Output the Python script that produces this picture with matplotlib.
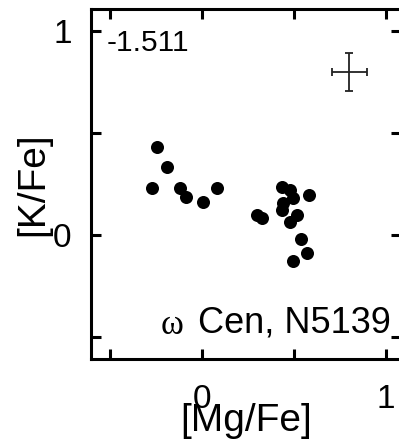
import matplotlib
matplotlib.use("Agg")
import matplotlib.pyplot as plt
import numpy as np

plt.rcParams['font.family'] = ['Liberation Sans', 'DejaVu Sans']

# [Mg/Fe] and [K/Fe] of the stars
mg_fe = [-0.246, -0.192, -0.270, -0.120, -0.087, 0.004, 0.083,
         0.297, 0.324,
         0.433, 0.478, 0.496, 0.442, 0.433, 0.478, 0.515, 0.582,
         0.538, 0.572, 0.493]
k_fe = [0.430, 0.335, 0.229, 0.229, 0.188, 0.163, 0.232,
        0.098, 0.082,
        0.237, 0.221, 0.180, 0.157, 0.123, 0.065, 0.098, 0.196,
        -0.019, -0.090, -0.126]

# typical error bar
err_xy = (0.80, 0.80)
err_x = 0.095
err_y = 0.093

feh_text = "-1.511"
cluster_name = "Cen, N5139"

# figure
fig = plt.figure(figsize=(3.99, 4.45), dpi=100)
ax = fig.add_axes([91/399, 1 - 359/445, 310/399, 350/445])

ax.scatter(mg_fe, k_fe, s=88, c='black', linewidths=0, zorder=3)
ax.errorbar([err_xy[0]], [err_xy[1]], xerr=err_x, yerr=err_y, fmt='none',
            ecolor='#222222', elinewidth=1.3, capsize=3, capthick=1.3)

ax.set_xlim(-0.603, 1.082)
ax.set_ylim(-0.608, 1.108)

ax.set_xticks([0, 1])
ax.set_xticks([-0.5, 0.5], minor=True)
ax.set_yticks([0, 1])
ax.set_yticks([-0.5, 0.5], minor=True)
for which in ('major', 'minor'):
    ax.tick_params(which=which, direction='in', length=7, width=2.2,
                   top=True, right=True)
ax.tick_params(which='major', labelsize=24)
ax.tick_params(axis='x', pad=18)
ax.tick_params(axis='y', pad=14)
for sp in ax.spines.values():
    sp.set_linewidth(2.2)

ax.set_xlabel('[Mg/Fe]', fontsize=28)
ax.set_ylabel('[K/Fe]', fontsize=28)
ax.xaxis.set_label_coords(0.5, (359 - 421) / 350)
ax.xaxis.label.set_va('center')
ax.yaxis.set_label_coords((33 - 91) / 310, 0.5)
ax.yaxis.label.set_va('center')

ax.text((107 - 91) / 310, 1 - 34/350, feh_text, transform=ax.transAxes,
        fontsize=21.5, ha='left', va='center')
ax.text((391 - 91) / 310, 1 - 314/350, cluster_name, transform=ax.transAxes,
        fontsize=26, ha='right', va='center')
ax.text((184 - 91) / 310, 1 - 316/350, '\u03c9', transform=ax.transAxes,
        fontsize=25, ha='right', va='center', family='Liberation Serif')

fig.savefig('out.png', dpi=100)
